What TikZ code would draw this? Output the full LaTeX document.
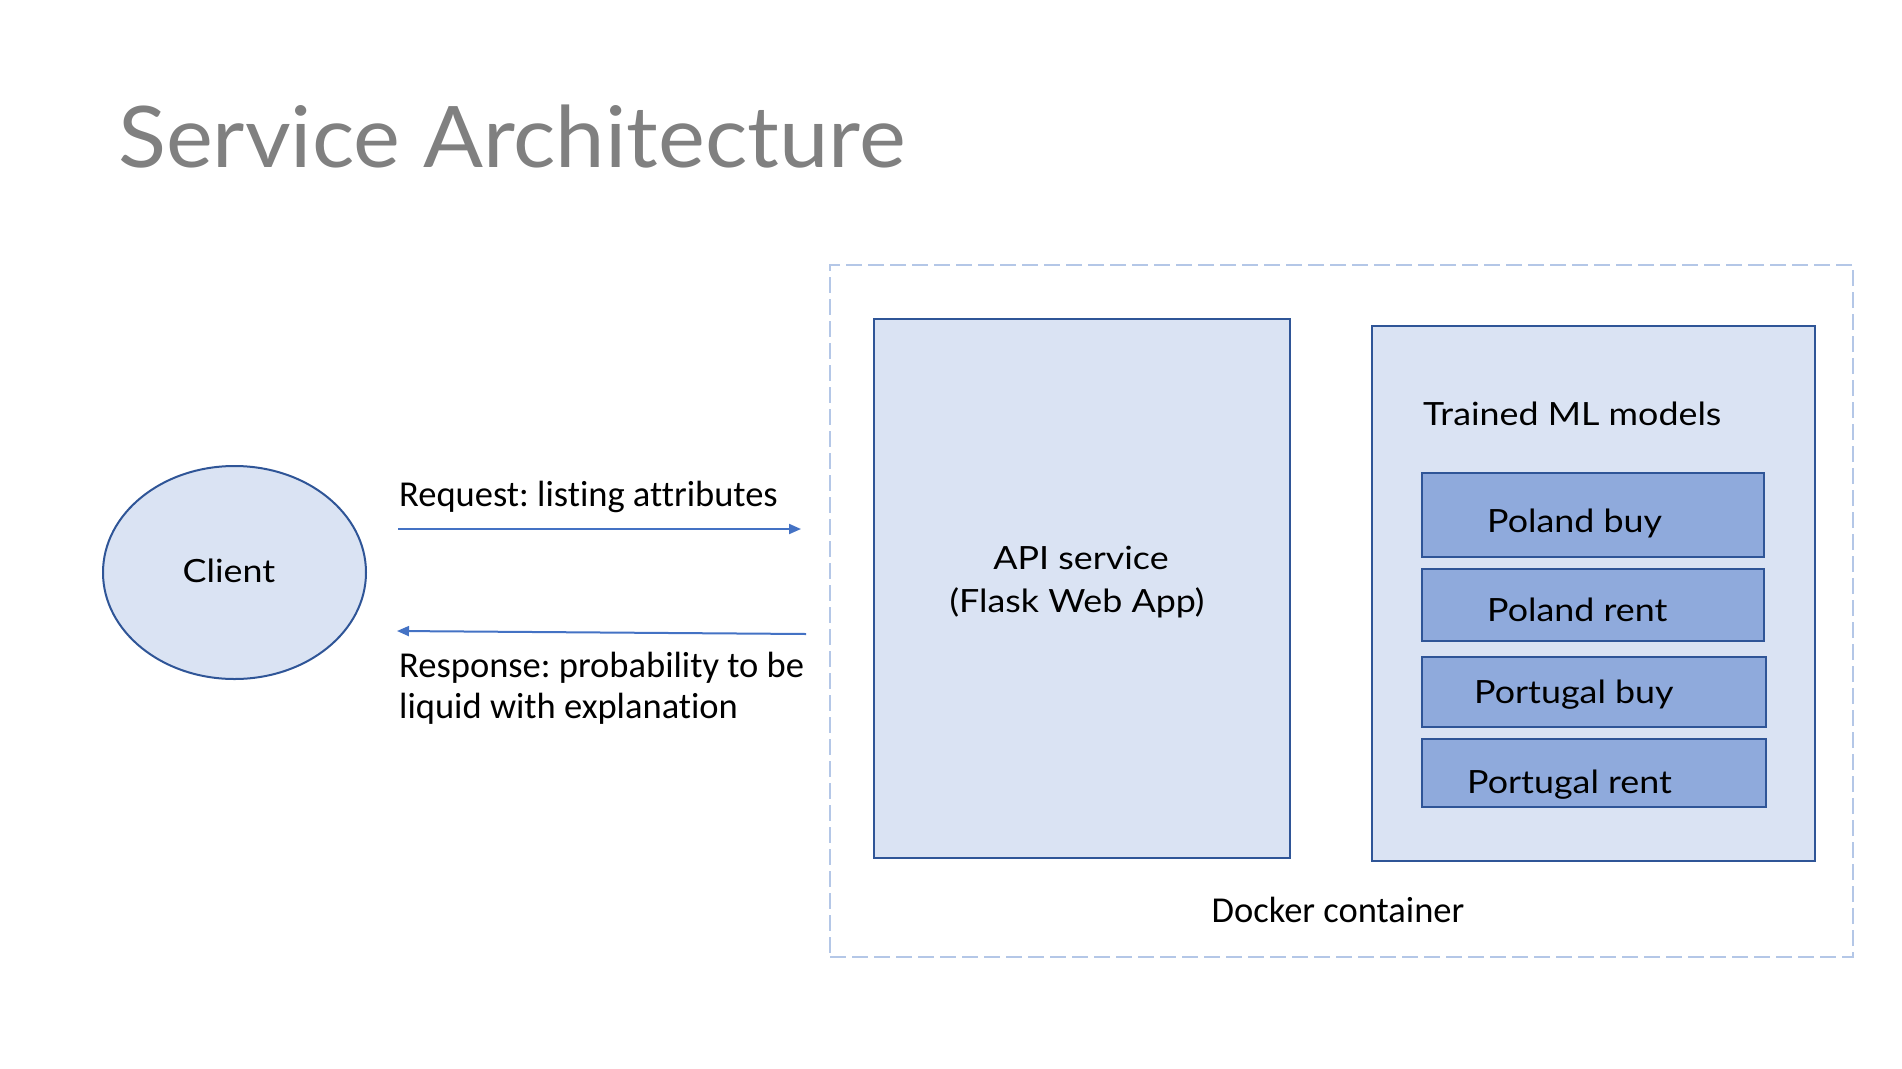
\documentclass[tikz,border=0pt]{standalone}
\usepackage{fontspec}
\setmainfont{Lato}
\newfontfamily\calib[Ligatures=NoCommon]{Carlito}
\newfontfamily\titlefont[FakeStretch=1.043]{Lato}
\newfontfamily\lblfont[FakeStretch=1.12]{Lato}
\usetikzlibrary{shapes.geometric,arrows.meta}
\definecolor{lightfill}{HTML}{DAE3F3}
\definecolor{boxborder}{HTML}{2F5597}
\definecolor{modelfill}{HTML}{8FAADC}
\definecolor{arrowblue}{HTML}{4472C4}
\definecolor{dashblue}{HTML}{B4C7E7}
\definecolor{titlegray}{HTML}{808080}
\frenchspacing
\tikzset{
  bigbox/.style={draw=boxborder, fill=lightfill, line width=2pt, rectangle, inner sep=0pt},
  modelbox/.style={draw=boxborder, fill=modelfill, line width=2pt, rectangle, inner sep=0pt},
  lbl/.style={inner sep=0pt, font=\lblfont\fontsize{32}{38}\selectfont},
  clbl/.style={inner sep=0pt, font=\calib\fontsize{36.5}{43}\selectfont},
  flow/.style={draw=arrowblue, line width=2pt, -{Triangle[length=12pt,width=10pt]}},
}
\begin{document}
\begin{tikzpicture}[x=1pt,y=-1pt]
\useasboundingbox (0,0) rectangle (1902,1068);
% title
\node[inner sep=0pt, anchor=base west, text=titlegray, font=\titlefont\fontsize{85}{100}\selectfont] (title) at (118,167) {Service Architecture};
% docker container
\node[draw=dashblue, line width=2.5pt, dash pattern=on 16pt off 6pt, rectangle, inner sep=0pt,
  minimum width=1023pt, minimum height=692pt] (docker) at (1341.5,611) {};
\node[clbl, anchor=base] (dockerlbl) at (1338,922) {Docker container};
% API box
\node[bigbox, minimum width=416pt, minimum height=539pt] (api) at (1082,588.5) {};
\node[lbl, anchor=base] (apil1) at (1081,569) {API service};
\node[lbl, anchor=base] (apil2) at (1077,612) {(Flask Web App)};
% models box
\node[bigbox, minimum width=443pt, minimum height=535pt] (models) at (1593.5,593.5) {};
\node[lbl, anchor=base west] (modelslbl) at (1423,425) {Trained ML models};
\node[modelbox, minimum width=342pt, minimum height=84pt] (pb) at (1593,515) {};
\node[lbl, anchor=base west] (pbl) at (1487,532) {Poland buy};
\node[modelbox, minimum width=342pt, minimum height=72pt] (pr) at (1593,605) {};
\node[lbl, anchor=base west] (prl) at (1487,621) {Poland rent};
\node[modelbox, minimum width=344pt, minimum height=70pt] (gb) at (1594,692) {};
\node[lbl, anchor=base west] (gbl) at (1474,703) {Portugal buy};
\node[modelbox, minimum width=344pt, minimum height=68pt] (gr) at (1594,773) {};
\node[lbl, anchor=base west] (grl) at (1467,793) {Portugal rent};
% client
\node[ellipse, draw=boxborder, fill=lightfill, line width=2pt, inner sep=0pt,
  minimum width=263pt, minimum height=213pt] (client) at (234.5,572.5) {};
\node[lbl, anchor=base] (clientlbl) at (229,582) {Client};
% arrows
\coordinate (reqs) at (398,529);
\coordinate (reqe) at (801,529);
\coordinate (ress) at (806,634);
\coordinate (rese) at (397,631);
\draw[flow] (reqs) -- (reqe);
\draw[flow] (ress) -- (rese);
\node[clbl, anchor=base west] (reqlbl) at (399,506) {Request: listing attributes};
\node[clbl, anchor=base west] (resl1) at (399,677) {Response: probability to be};
\node[clbl, anchor=base west] (resl2) at (399,718) {liquid with explanation};
\end{tikzpicture}
\end{document}
